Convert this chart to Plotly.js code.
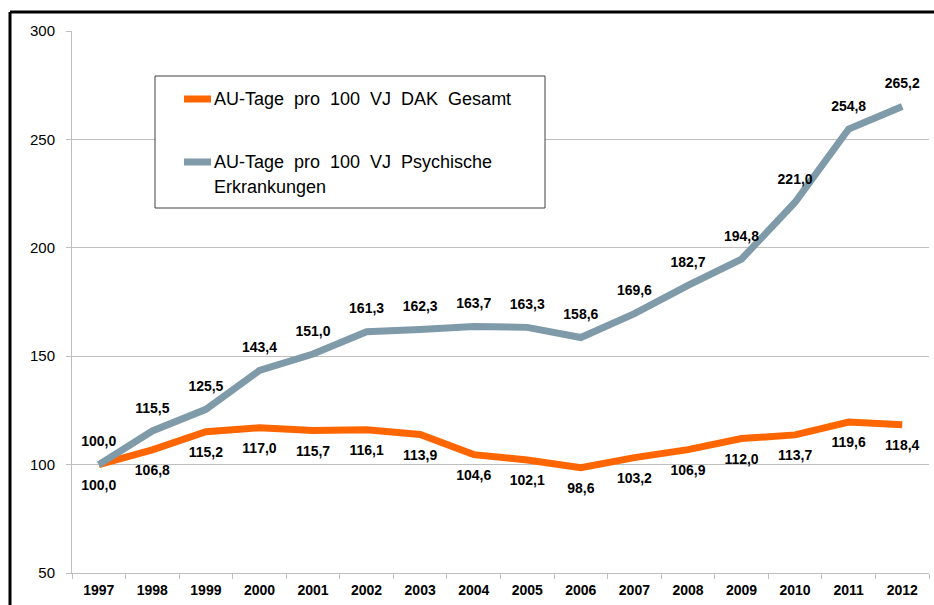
<!DOCTYPE html>
<html>
<head>
<meta charset="utf-8">
<script src="https://cdn.plot.ly/plotly-3.0.1.min.js"></script>
<style>
html,body{margin:0;padding:0;background:#fff;}
#chart{width:934px;height:605px;}
</style>
</head>
<body>
<div id="chart"></div>
<script>
var years = ['1997','1998','1999','2000','2001','2002','2003','2004','2005','2006','2007','2008','2009','2010','2011','2012'];
var gesamt = [100.0,106.8,115.2,117.0,115.7,116.1,113.9,104.6,102.1,98.6,103.2,106.9,112.0,113.7,119.6,118.4];
var psychisch = [100.0,115.5,125.5,143.4,151.0,161.3,162.3,163.7,163.3,158.6,169.6,182.7,194.8,221.0,254.8,265.2];
var nameGesamt = 'AU-Tage\u00a0 pro\u00a0 100\u00a0 VJ\u00a0 DAK\u00a0 Gesamt';
var namePsych1 = 'AU-Tage\u00a0 pro\u00a0 100\u00a0 VJ\u00a0 Psychische';
var namePsych2 = 'Erkrankungen';
var yTicks = [50,100,150,200,250,300];

function fmt(v){ return v.toFixed(1).replace('.', ','); }

var FONT = 'Liberation Sans, Arial, sans-serif';
var labelFont = {family:FONT, size:14, color:'#000', weight:'bold'};

var traces = [
  {
    x: years, y: gesamt, name: nameGesamt, type:'scatter', mode:'lines+markers+text',
    line:{color:'#ff6600', width:7},
    marker:{size:22, opacity:0, color:'#ff6600'},
    text: gesamt.map(function(v){return '<b>'+fmt(v)+'</b>';}),
    textposition:'bottom center', textfont: labelFont, cliponaxis:false,
    showlegend:false
  },
  {
    x: years, y: psychisch, name: namePsych1 + ' ' + namePsych2, type:'scatter', mode:'lines+markers+text',
    line:{color:'#7f9aa8', width:7},
    marker:{size:22, opacity:0, color:'#7f9aa8'},
    text: psychisch.map(function(v){return '<b>'+fmt(v)+'</b>';}),
    textposition:'top center', textfont: labelFont, cliponaxis:false,
    showlegend:false
  }
];

// pixel helpers for legend box placement (plot area: x 72..929, y 31..573)
function px(x){ return (x-72)/857; }
function py(y){ return (573-y)/542; }

var layout = {
  width:934, height:605,
  margin:{l:72, r:5, t:31, b:32},
  paper_bgcolor:'#fff', plot_bgcolor:'#fff',
  font:{family:FONT, color:'#000'},
  showlegend:false,
  xaxis:{
    type:'category', categoryorder:'array', categoryarray: years,
    range:[-0.5, years.length-0.5],
    showline:true, linecolor:'#bfbfbf', linewidth:1,
    ticks:'outside', tickson:'boundaries', ticklen:5, tickcolor:'#bfbfbf',
    showgrid:false, zeroline:false,
    tickfont:{family:FONT, size:14, color:'#000', weight:'bold'},
    ticklabelstandoff:4,
    fixedrange:true
  },
  yaxis:{
    range:[50,300], tickvals: yTicks, ticktext: yTicks.map(String),
    showline:true, linecolor:'#bfbfbf', linewidth:1,
    ticks:'outside', ticklen:5, tickcolor:'#bfbfbf',
    showgrid:true, gridcolor:'#bfbfbf', gridwidth:1, zeroline:false,
    tickfont:{family:FONT, size:15, color:'#000'},
    ticklabelstandoff:8,
    fixedrange:true
  },
  shapes:[
    {type:'line', xref:'paper', yref:'paper', x0:px(10), x1:px(1100), y0:py(12), y1:py(12), line:{color:'#000', width:3}},
    {type:'line', xref:'paper', yref:'paper', x0:px(10), x1:px(10), y0:py(12), y1:py(700), line:{color:'#000', width:3}},
    {type:'rect', xref:'paper', yref:'paper', x0:px(155), x1:px(545), y0:py(76), y1:py(208), fillcolor:'#fff', line:{color:'#404040', width:1}, layer:'above'},
    {type:'line', xref:'paper', yref:'paper', x0:px(184), x1:px(211), y0:py(99), y1:py(99), line:{color:'#ff6600', width:7}, layer:'above'},
    {type:'line', xref:'paper', yref:'paper', x0:px(184), x1:px(211), y0:py(162), y1:py(162), line:{color:'#7f9aa8', width:7}, layer:'above'}
  ],
  annotations:[
    {xref:'paper', yref:'paper', x:px(212), y:py(99), xanchor:'left', yanchor:'middle', showarrow:false,
     text: nameGesamt, font:{family:FONT, size:18, color:'#000'}},
    {xref:'paper', yref:'paper', x:px(212), y:py(162), xanchor:'left', yanchor:'middle', showarrow:false,
     text: namePsych1, font:{family:FONT, size:18, color:'#000'}},
    {xref:'paper', yref:'paper', x:px(212), y:py(187), xanchor:'left', yanchor:'middle', showarrow:false,
     text: namePsych2, font:{family:FONT, size:18, color:'#000'}}
  ]
};

Plotly.newPlot('chart', traces, layout, {displayModeBar:false, staticPlot:true});
</script>
</body>
</html>
